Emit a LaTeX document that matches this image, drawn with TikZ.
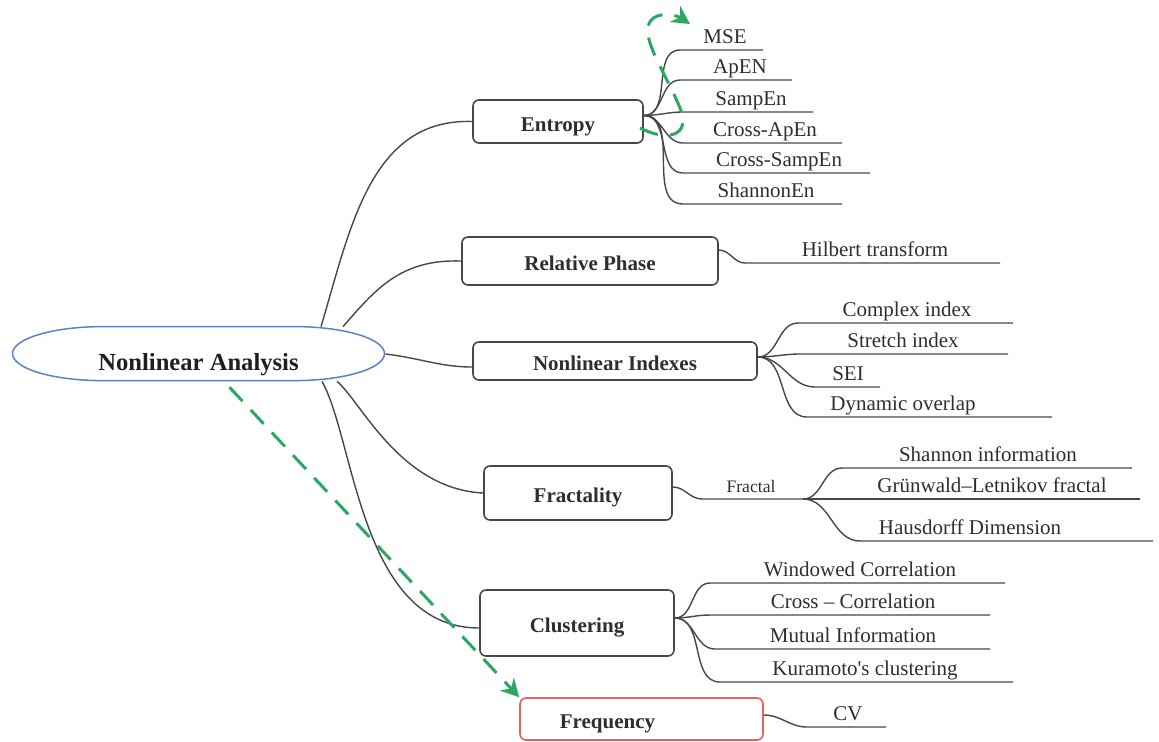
\documentclass[tikz,border=0pt]{standalone}
\usepackage{fontspec}
\setmainfont{Liberation Serif}
\usetikzlibrary{arrows.meta}
\definecolor{linegray}{HTML}{474747}
\definecolor{textgray}{HTML}{2E2E2E}
\definecolor{rootblue}{HTML}{5B82C9}
\definecolor{freqred}{HTML}{E2625C}
\definecolor{hintgreen}{HTML}{2BA862}
\tikzset{
    core/.style={rectangle, minimum width=186.5pt, minimum height=27pt, inner sep=0pt,
        text height=16pt, text depth=0pt, font=\fontsize{12.3}{14}\selectfont\bfseries, text=black!88},
    coreline/.style={draw=rootblue, line width=0.75pt},
    topic/.style={draw=linegray, line width=0.8pt, rounded corners=3pt, inner sep=0pt,
        text height=9.5pt, text depth=0pt, font=\fontsize{10.5}{12}\selectfont\bfseries, text=textgray},
    leaf/.style={anchor=south, inner xsep=0pt, inner ysep=1.5pt, text height=1.6ex, text depth=0.3ex, text=textgray},
    link/.style={draw=linegray, line width=0.7pt},
    twig/.style={out=0, in=180},
    % green hand-drawn hint arrows
    hint/.style={draw=hintgreen, line width=1.5pt, dash pattern=on 9.5pt off 6pt,
        -{Stealth[length=9pt, width=9.5pt, inset=3pt]}},
}

\begin{document}
\begin{tikzpicture}[x=0.5pt, y=-0.5pt, font=\fontsize{10.5}{12}\selectfont]
    \useasboundingbox (0,0) rectangle (1159,741);

    % centre
    \node[core] (central) at (198.5,354) {Nonlinear Analysis};
    \draw[coreline] (central.north) -- ++(96,0) arc[start angle=90, end angle=-90, x radius=45pt, y radius=13.5pt]
        -- ++(-192,0) arc[start angle=270, end angle=90, x radius=45pt, y radius=13.5pt] -- cycle;

    % topics
    \node[topic, minimum width=85pt, minimum height=21.5pt] (entropy) at (558,121.5) {Entropy};
    \node[topic, minimum width=128pt, minimum height=24pt] (phase) at (590,261) {Relative Phase};
    \node[topic, minimum width=142pt, minimum height=19pt] (nli) at (615,361) {Nonlinear Indexes};
    \node[topic, minimum width=94pt, minimum height=27pt] (fractality) at (578,493) {Fractality};
    \node[topic, minimum width=97pt, minimum height=33pt] (clustering) at (577,623) {Clustering};
    \node[topic, draw=freqred, minimum width=121.5pt, minimum height=21pt] (freq) at (641.5,719) {Frequency\hspace*{34pt}};

    \draw[link] (central.north -| 321,0) .. controls (350,230) and (370,118) .. (entropy.west);
    \draw[link] (central.north -| 343,0) .. controls (375,290) and (400,259) .. (phase.west);
    \draw[link] (central.east) .. controls (420,358) and (440,367) .. ([yshift=-3pt]nli.west);
    \draw[link] (central.south -| 337,0) .. controls (360,400) and (400,489) .. (fractality.west);
    \draw[link] (central.south -| 322,0) .. controls (355,440) and (360,628) .. ([yshift=-2.5pt]clustering.west);
    \draw[hint, shorten <=4pt] (central) -- (freq.north west);

    % entropy leaves
    \coordinate (entroot) at ([yshift=3pt]entropy.east);
    \foreach \n/\cx/\uy/\xa/\xb/\t in {mse/725/50/680/763/MSE, apen/740/80/680/792/ApEN,
        sampen/751/112/683/813/SampEn, crossapen/765/143/683/842/Cross-ApEn,
        crosssampen/779/173/683/870/Cross-SampEn, shannonen/766/204/683/842/ShannonEn}{
        \node[leaf] (\n) at (\cx,\uy) {\t};
        \draw[link] (entroot) to[twig] (\n.south -| \xa,0) -- (\n.south -| \xb,0);
    }
    \coordinate (loopstart) at (640,128);
    \coordinate (loopend) at (690,24);
    \draw[hint] (loopstart) .. controls (675,145) and (690,130) .. (680,108)
        .. controls (668,78) and (645,45) .. (648,27) .. controls (651,10) and (675,14) .. (loopend);

    % relative phase
    \node[leaf] (hilbert) at (875,263) {Hilbert transform};
    \draw[link] ([yshift=5.5pt]phase.east) to[twig] (hilbert.south -| 745,0) -- (hilbert.south -| 1000,0);

    % nonlinear indexes
    \coordinate (nliroot) at ([yshift=2pt]nli.east);
    \foreach \n/\cx/\uy/\xa/\xb/\t in {complex/907/323/798/1013/Complex index, stretch/903/354/800/1008/Stretch index,
        sei/848/387/815/880/SEI, overlap/903/417/807/1052/Dynamic overlap}{
        \node[leaf] (\n) at (\cx,\uy) {\t};
        \draw[link] (nliroot) to[twig] (\n.south -| \xa,0) -- (\n.south -| \xb,0);
    }

    % fractality
    \node[leaf, font=\fontsize{8.8}{10}\selectfont] (fractal) at (751,499) {Fractal};
    \draw[link] ([yshift=3pt]fractality.east) to[twig] (fractal.south -| 702,0) -- (fractal.south -| 803,0);
    \coordinate (fracroot) at (fractal.south -| 803,0);
    \foreach \n/\cx/\uy/\xa/\xb/\t in {shannoninfo/988/468/842/1132/Shannon information,
        grunwald/992/499/803/1140/Grünwald–Letnikov fractal, hausdorff/970/541/860/1153/Hausdorff Dimension}{
        \node[leaf] (\n) at (\cx,\uy) {\t};
        \draw[link] (fracroot) to[twig] (\n.south -| \xa,0) -- (\n.south -| \xb,0);
    }

    % clustering
    \coordinate (clusroot) at ([yshift=2.5pt]clustering.east);
    \foreach \n/\cx/\uy/\xa/\xb/\t in {windowed/860/583/710/1005/Windowed Correlation,
        crosscorr/853/615/710/990/Cross – Correlation, mutual/853/649/715/990/Mutual Information,
        kuramoto/865/682/720/1013/Kuramoto\textquotesingle s clustering}{
        \node[leaf] (\n) at (\cx,\uy) {\t};
        \draw[link] (clusroot) to[twig] (\n.south -| \xa,0) -- (\n.south -| \xb,0);
    }

    % frequency
    \node[leaf] (cv) at (848,727) {CV};
    \draw[link] ([yshift=2pt]freq.east) to[twig] (cv.south -| 807,0) -- (cv.south -| 886,0);
\end{tikzpicture}
\end{document}
